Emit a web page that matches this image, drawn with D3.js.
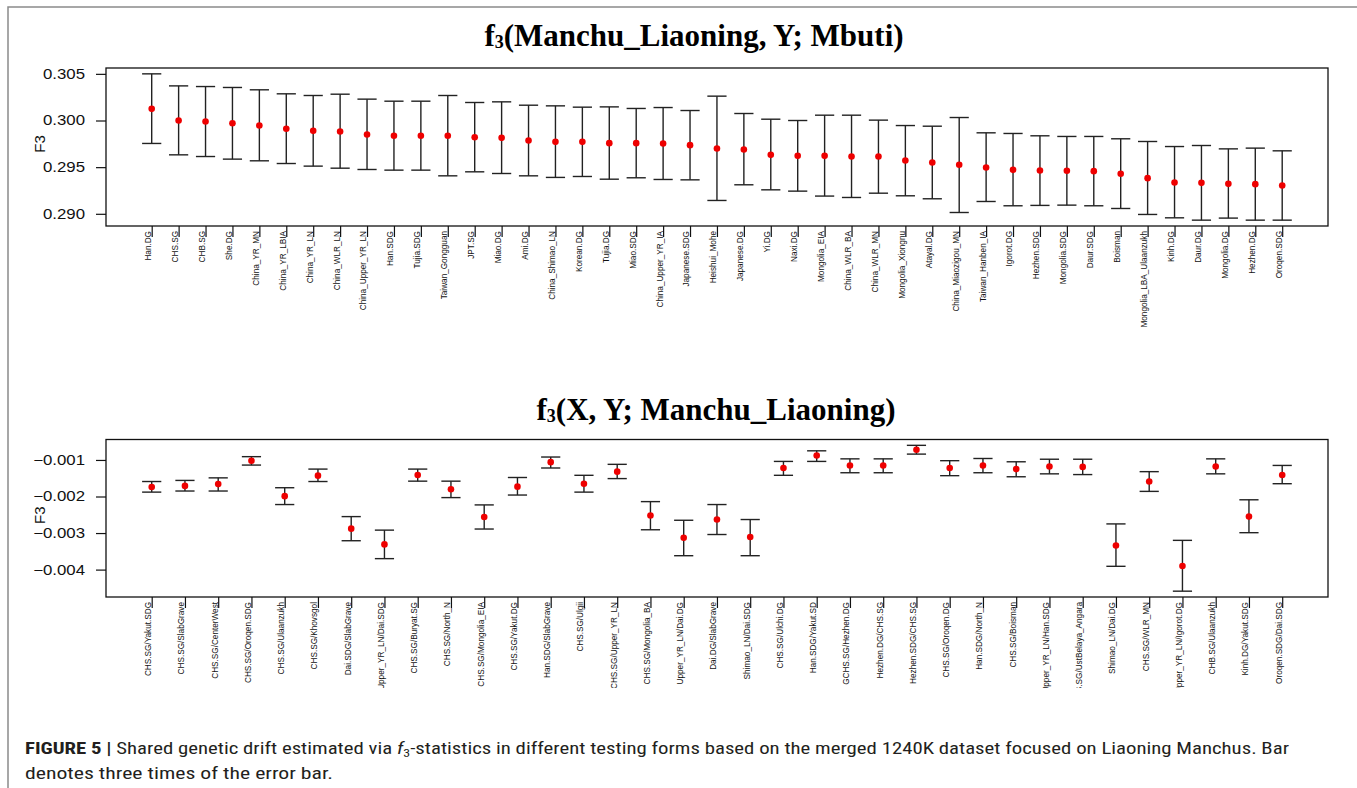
<!DOCTYPE html>
<html>
<head>
<meta charset="utf-8">
<script src="https://cdn.jsdelivr.net/npm/d3@7"></script>
<style>
  html, body { margin: 0; padding: 0; background: #fff; }
  svg { display: block; }
</style>
</head>
<body>
<svg id="fig" width="1357" height="788"></svg>
<script>
// ---- f3(Manchu_Liaoning, Y; Mbuti) ----
const topLabels = ["Han.DG","CHS.SG","CHB.SG","She.DG","China_YR_MN","China_YR_LBIA","China_YR_LN","China_WLR_LN","China_Upper_YR_LN","Han.SDG","Tujia.SDG","Taiwan_Gongguan","JPT.SG","Miao.DG","Ami.DG","China_Shimao_LN","Korean.DG","Tujia.DG","Miao.SDG","China_Upper_YR_IA","Japanese.SDG","Heishui_Mohe","Japanese.DG","Yi.DG","Naxi.DG","Mongolia_EIA","China_WLR_BA","China_WLR_MN","Mongolia_Xiongnu","Atayal.DG","China_Miaozigou_MN","Taiwan_Hanben_IA","Igorot.DG","Hezhen.SDG","Mongolia.SDG","Daur.SDG","Boisman","Mongolia_LBA_Ulaanzukh","Kinh.DG","Daur.DG","Mongolia.DG","Hezhen.DG","Oroqen.SDG"];
const topF3 = [0.30125,0.30000,0.29989,0.29971,0.29946,0.29911,0.29889,0.29882,0.29850,0.29836,0.29836,0.29836,0.29821,0.29814,0.29786,0.29771,0.29771,0.29757,0.29757,0.29754,0.29736,0.29700,0.29689,0.29632,0.29621,0.29621,0.29614,0.29614,0.29571,0.29550,0.29525,0.29496,0.29471,0.29464,0.29461,0.29457,0.29429,0.29382,0.29336,0.29332,0.29321,0.29318,0.29304];
const topUpper = [0.30500,0.30371,0.30364,0.30354,0.30329,0.30286,0.30268,0.30282,0.30229,0.30207,0.30207,0.30268,0.30193,0.30200,0.30164,0.30157,0.30143,0.30146,0.30129,0.30139,0.30107,0.30261,0.30075,0.30014,0.30000,0.30057,0.30057,0.30004,0.29946,0.29939,0.30032,0.29868,0.29861,0.29836,0.29829,0.29829,0.29804,0.29775,0.29721,0.29732,0.29696,0.29704,0.29675];
const topLower = [0.29754,0.29632,0.29614,0.29586,0.29568,0.29539,0.29511,0.29489,0.29475,0.29468,0.29468,0.29407,0.29450,0.29432,0.29407,0.29390,0.29400,0.29371,0.29386,0.29368,0.29364,0.29143,0.29311,0.29257,0.29243,0.29190,0.29175,0.29221,0.29193,0.29161,0.29014,0.29132,0.29086,0.29090,0.29093,0.29086,0.29057,0.28993,0.28957,0.28932,0.28954,0.28932,0.28932];
const topTicks = [0.290, 0.295, 0.300, 0.305];

// ---- f3(X, Y; Manchu_Liaoning) ----
const botLabels = ["CHS.SG/Yakut.SDG","CHS.SG/SlabGrave","CHS.SG/CenterWest","CHS.SG/Oroqen.SDG","CHS.SG/Ulaanzukh","CHS.SG/Khovsgol","Dai.SDG/SlabGrave","Upper_YR_LN/Dai.SDG","CHS.SG/Buryat.SG","CHS.SG/North_N","CHS.SG/Mongolia_EIA","CHS.SG/Yakut.DG","Han.SDG/SlabGrave","CHS.SG/Ulgii","CHS.SG/Upper_YR_LN","CHS.SG/Mongolia_BA","Upper_YR_LN/Dai.DG","Dai.DG/SlabGrave","Shimao_LN/Dai.SDG","CHS.SG/Ulchi.DG","Han.SDG/Yakut.SD","GCHS.SG/Hezhen.DG","Hezhen.DG/CHS.SG","Hezhen.SDG/CHS.SG","CHS.SG/Oroqen.DG","Han.SDG/North_N","CHS.SG/Boisman","Upper_YR_LN/Han.SDG","CHS.SG/UstBelaya_Angara","Shimao_LN/Dai.DG","CHS.SG/WLR_MN","Upper_YR_LN/Igorot.DG","CHB.SG/Ulaanzukh","Kinh.DG/Yakut.SDG","Oroqen.SDG/Dai.SDG"];
const botF3 = [-0.00174,-0.00171,-0.00166,-0.00102,-0.00199,-0.00143,-0.00288,-0.00331,-0.00141,-0.00180,-0.00256,-0.00173,-0.00106,-0.00165,-0.00132,-0.00252,-0.00313,-0.00263,-0.00311,-0.00122,-0.00088,-0.00115,-0.00115,-0.00072,-0.00122,-0.00115,-0.00125,-0.00118,-0.00119,-0.00334,-0.00159,-0.00390,-0.00118,-0.00255,-0.00141];
const botUpper = [-0.00159,-0.00156,-0.00149,-0.00091,-0.00176,-0.00125,-0.00255,-0.00292,-0.00125,-0.00158,-0.00223,-0.00148,-0.00092,-0.00142,-0.00112,-0.00214,-0.00265,-0.00222,-0.00263,-0.00104,-0.00075,-0.00097,-0.00097,-0.00060,-0.00102,-0.00096,-0.00105,-0.00098,-0.00098,-0.00275,-0.00132,-0.00320,-0.00097,-0.00209,-0.00115];
const botLower = [-0.00188,-0.00185,-0.00185,-0.00114,-0.00222,-0.00159,-0.00321,-0.00370,-0.00158,-0.00203,-0.00289,-0.00196,-0.00122,-0.00188,-0.00151,-0.00291,-0.00362,-0.00304,-0.00362,-0.00142,-0.00104,-0.00135,-0.00135,-0.00084,-0.00143,-0.00135,-0.00146,-0.00138,-0.00140,-0.00391,-0.00186,-0.00459,-0.00138,-0.00299,-0.00165];
const botTicks = [-0.004, -0.003, -0.002, -0.001];

const svg = d3.select("#fig");
const SANS = "'Liberation Sans', Arial, Helvetica, sans-serif";
const SERIF = "'Liberation Serif', 'Times New Roman', serif";

// outer figure frame
svg.append("rect")
  .attr("x", 8).attr("y", 7).attr("width", 1360).attr("height", 800)
  .attr("fill", "none").attr("stroke", "#8a8a8a").attr("stroke-width", 1.5);

function drawPanel(opt) {
  const { labels, est, upper, lower, ticks, box, title, titleX, titleY, fmt, labelClipBottom, id } = opt;
  const g = svg.append("g");

  // y range padded by 4% like a base-graphics plot
  const lo = d3.min(lower), hi = d3.max(upper);
  const pad = (hi - lo) * 0.04;
  const y = d3.scaleLinear().domain([lo - pad, hi + pad]).range([box.bottom, box.top]);
  const x = d3.scalePoint().domain(labels).range([151.7, 1282.2]);

  // title: f3(...) with subscript 3
  const t = g.append("text")
    .attr("x", titleX).attr("y", titleY)
    .attr("text-anchor", "middle")
    .attr("font-family", SERIF).attr("font-weight", "bold").attr("font-size", 31)
    .attr("fill", "#000");
  t.append("tspan").text("f");
  t.append("tspan").attr("font-size", 18).attr("dy", 2).text("3");
  t.append("tspan").attr("dy", -2).text(title);

  // plot box
  g.append("rect")
    .attr("x", box.left).attr("y", box.top)
    .attr("width", box.right - box.left).attr("height", box.bottom - box.top)
    .attr("fill", "none").attr("stroke", "#111").attr("stroke-width", 1.3);

  // y axis
  const yAxis = g.append("g")
    .attr("transform", `translate(${box.left},0)`)
    .call(d3.axisLeft(y).tickValues(ticks).tickSize(10).tickSizeOuter(0).tickPadding(11).tickFormat(fmt));
  yAxis.select(".domain").remove();
  yAxis.selectAll(".tick line").attr("stroke", "#111").attr("stroke-width", 1.2);
  yAxis.selectAll(".tick text")
    .attr("font-family", SANS).attr("font-size", 14).attr("fill", "#111")
    .attr("transform", function () {
      const xx = +d3.select(this).attr("x");
      return `translate(${xx},0) scale(1.2,1) translate(${-xx},0)`;
    });

  g.append("text")
    .attr("transform", `translate(${box.left - 67},${(box.top + box.bottom) / 2 - 3}) rotate(-90)`)
    .attr("text-anchor", "middle").attr("dominant-baseline", "central")
    .attr("font-family", SANS).attr("font-size", 15).attr("fill", "#111")
    .text("F3");

  // x axis ticks and rotated labels
  const xAxis = g.append("g")
    .attr("transform", `translate(0,${box.bottom})`)
    .call(d3.axisBottom(x).tickSize(11).tickSizeOuter(0).tickFormat(""));
  xAxis.select(".domain").remove();
  xAxis.selectAll(".tick line").attr("stroke", "#111").attr("stroke-width", 1.2);

  const clipId = "clip-" + id;
  svg.append("clipPath").attr("id", clipId)
    .append("rect").attr("x", 0).attr("y", box.bottom + 1).attr("width", 1357).attr("height", labelClipBottom - box.bottom - 1);

  g.append("g").attr("clip-path", `url(#${clipId})`)
    .selectAll("text").data(labels).join("text")
    .attr("transform", d => `translate(${x(d) - 0.6},${box.bottom + 5}) scale(1.2,1) rotate(-90)`)
    .attr("text-anchor", "end")
    .attr("font-family", SANS).attr("font-size", 8.2).attr("fill", "#111")
    .text(d => d);

  // error bars
  const capHalf = 9.6;
  const bars = g.append("g").selectAll("g").data(labels).join("g");
  bars.append("line")
    .attr("x1", d => x(d)).attr("x2", d => x(d))
    .attr("y1", (d, i) => y(upper[i])).attr("y2", (d, i) => y(lower[i]))
    .attr("stroke", "#222").attr("stroke-width", 1.4);
  bars.append("line")
    .attr("x1", d => x(d) - capHalf).attr("x2", d => x(d) + capHalf)
    .attr("y1", (d, i) => y(upper[i])).attr("y2", (d, i) => y(upper[i]))
    .attr("stroke", "#222").attr("stroke-width", 1.4);
  bars.append("line")
    .attr("x1", d => x(d) - capHalf).attr("x2", d => x(d) + capHalf)
    .attr("y1", (d, i) => y(lower[i])).attr("y2", (d, i) => y(lower[i]))
    .attr("stroke", "#222").attr("stroke-width", 1.4);

  // point estimates
  g.append("g").selectAll("circle").data(labels).join("circle")
    .attr("cx", d => x(d)).attr("cy", (d, i) => y(est[i]))
    .attr("r", 3.3).attr("fill", "#ee0000");
}

drawPanel({
  id: "top",
  labels: topLabels, est: topF3, upper: topUpper, lower: topLower, ticks: topTicks,
  box: { left: 106, right: 1328, top: 68, bottom: 226 },
  title: "(Manchu_Liaoning, Y; Mbuti)", titleX: 694, titleY: 46,
  fmt: d3.format(".3f"), labelClipBottom: 360
});

drawPanel({
  id: "bot",
  labels: botLabels, est: botF3, upper: botUpper, lower: botLower, ticks: botTicks,
  box: { left: 106, right: 1328, top: 439.5, bottom: 597 },
  title: "(X, Y; Manchu_Liaoning)", titleX: 716, titleY: 420,
  fmt: d3.format(".3f"), labelClipBottom: 688
});

// caption
const CAP = "'Liberation Sans Narrow', 'Roboto Condensed', 'Liberation Sans', Arial, sans-serif";
const c1 = svg.append("text")
  .attr("x", 25).attr("y", 754)
  .attr("font-family", CAP).attr("font-size", 16.5).attr("fill", "#231f20")
  .attr("textLength", 1264).attr("lengthAdjust", "spacingAndGlyphs");
c1.append("tspan").attr("font-weight", "bold").text("FIGURE 5 |");
c1.append("tspan").text(" Shared genetic drift estimated via ");
c1.append("tspan").attr("font-style", "italic").text("f");
c1.append("tspan").attr("font-size", 11).attr("dy", 3).text("3");
c1.append("tspan").attr("dy", -3).text("-statistics in different testing forms based on the merged 1240K dataset focused on Liaoning Manchus. Bar");

svg.append("text")
  .attr("x", 25).attr("y", 779)
  .attr("font-family", CAP).attr("font-size", 16.5).attr("fill", "#231f20")
  .attr("textLength", 308).attr("lengthAdjust", "spacingAndGlyphs")
  .text("denotes three times of the error bar.");
</script>
</body>
</html>
